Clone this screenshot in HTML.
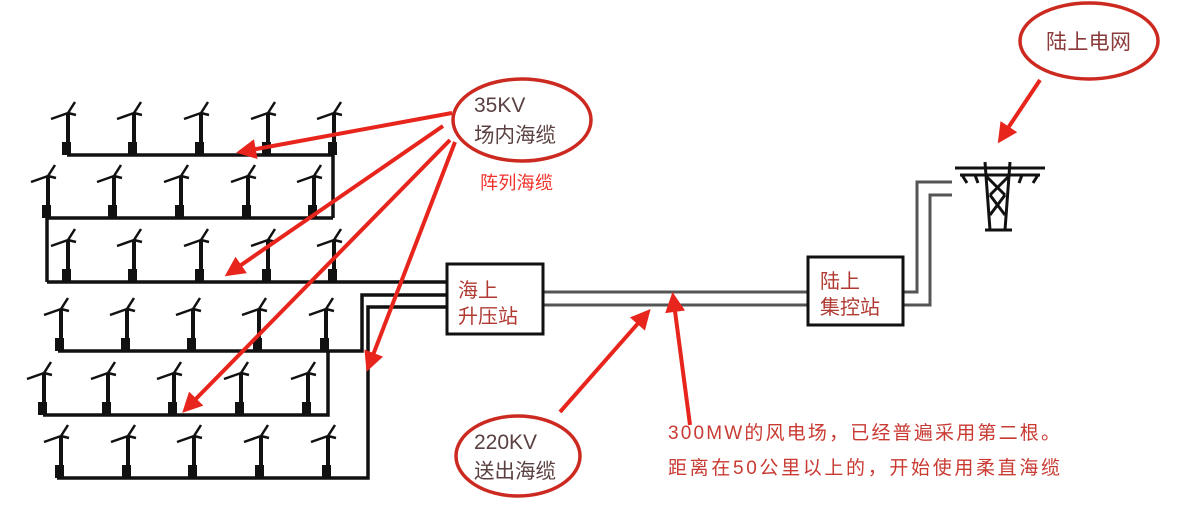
<!DOCTYPE html>
<html><head><meta charset="utf-8"><style>
body{margin:0;background:#fff;width:1200px;height:515px;overflow:hidden}
svg{display:block}
text{font-family:"Liberation Sans","Noto Sans CJK SC",sans-serif}
</style></head><body>
<svg width="1200" height="515" viewBox="0 0 1200 515" xmlns="http://www.w3.org/2000/svg">
<defs>
<g id="t">
<path d="M1 -4 V-42" stroke="#111" stroke-width="4" fill="none"/>
<path d="M-16 -36 L1 -42 L8 -53 M1 -42 L9 -40" stroke="#111" stroke-width="2.5" fill="none"/>
<rect x="-5" y="-13" width="9" height="13" fill="#111"/>
</g>
<marker id="ah" viewBox="0 0 10 10" refX="8" refY="5" markerWidth="5.5" markerHeight="5" orient="auto"><path d="M0 0 L10 5 L0 10 z" fill="#e8251c"/></marker>
</defs>
<g stroke="#111" stroke-width="3.5" fill="none">
<path d="M67 155 H333 V218"/>
<path d="M47 218 H333 M47 218 V282"/>
<path d="M47 282 H447"/>
<path d="M58 351 H362 V295 H447"/>
<path d="M43 415 H328 V351"/>
<path d="M57 478 H368 V307 H447"/>
</g>
<g>
<use href="#t" x="67" y="155"/><use href="#t" x="133" y="155"/><use href="#t" x="200" y="155"/><use href="#t" x="267" y="155"/><use href="#t" x="333" y="155"/>
<use href="#t" x="47" y="218"/><use href="#t" x="113" y="218"/><use href="#t" x="180" y="218"/><use href="#t" x="247" y="218"/><use href="#t" x="313" y="218"/>
<use href="#t" x="67" y="282"/><use href="#t" x="133" y="282"/><use href="#t" x="200" y="282"/><use href="#t" x="267" y="282"/><use href="#t" x="333" y="282"/>
<use href="#t" x="60" y="351"/><use href="#t" x="126" y="351"/><use href="#t" x="192" y="351"/><use href="#t" x="258" y="351"/><use href="#t" x="325" y="351"/>
<use href="#t" x="43" y="415"/><use href="#t" x="107" y="415"/><use href="#t" x="173" y="415"/><use href="#t" x="240" y="415"/><use href="#t" x="307" y="415"/>
<use href="#t" x="60" y="478"/><use href="#t" x="127" y="478"/><use href="#t" x="193" y="478"/><use href="#t" x="260" y="478"/><use href="#t" x="327" y="478"/>
</g>
<g stroke="#555" stroke-width="3" fill="none">
<path d="M543 292 H808 M543 305 H808"/>
<path d="M903 292 H917 V182 H952 M903 305 H930 V195 H952"/>
</g>
<rect x="447" y="264" width="96" height="70" fill="#fff" stroke="#111" stroke-width="3"/>
<rect x="808" y="257" width="95" height="68" fill="#fff" stroke="#111" stroke-width="3"/>
<text x="458" y="297" font-size="20" fill="#b03a32">海上</text>
<text x="458" y="323" font-size="20" fill="#b03a32">升压站</text>
<text x="820" y="288" font-size="20" fill="#b03a32">陆上</text>
<text x="820" y="314" font-size="20" fill="#b03a32">集控站</text>
<g stroke="#111" stroke-width="3" fill="none">
<path d="M955 168 H1045 M960 175 H1040"/>
<path d="M985 162 L990 230 M1010 162 L1005 230 M985 175 L1005 195 M1010 175 L990 195 M990 195 L1005 215 M1005 195 L990 215 M985 230 H1012 M962 175 l5 8 M1038 175 l-5 8 M975 175 l3 8 M1022 175 l-3 8"/>
</g>
<g stroke="#cc2a20" stroke-width="3.5" fill="none">
<ellipse cx="522" cy="120" rx="69" ry="41"/>
<ellipse cx="518" cy="456" rx="62" ry="40"/>
<ellipse cx="1089" cy="41" rx="69" ry="38"/>
</g>
<text x="474" y="112" font-size="21" fill="#5a4040">35KV</text>
<text x="474" y="142" font-size="20.5" fill="#5a4040" textLength="82">场内海缆</text>
<text x="480" y="189" font-size="18" fill="#f0302a" textLength="73">阵列海缆</text>
<text x="474" y="449" font-size="21" fill="#5a4040">220KV</text>
<text x="474" y="478" font-size="20.5" fill="#5a4040" textLength="82">送出海缆</text>
<text x="1046" y="49" font-size="21" fill="#8a3a3a" textLength="85">陆上电网</text>
<text x="668" y="439" font-size="19" fill="#c83a32" textLength="392">300MW的风电场，已经普遍采用第二根。</text>
<text x="668" y="474" font-size="19" fill="#c83a32" textLength="392">距离在50公里以上的，开始使用柔直海缆</text>
<g stroke="#e8251c" stroke-width="4" fill="none" marker-end="url(#ah)">
<path d="M452 113 L240 152"/>
<path d="M443 126 L228 274"/>
<path d="M450 140 L185 410"/>
<path d="M455 142 L368 368"/>
<path d="M560 412 L648 312"/>
<path d="M690 425 L673 296"/>
<path d="M1040 80 L1000 140"/>
</g>
</svg>
</body></html>
